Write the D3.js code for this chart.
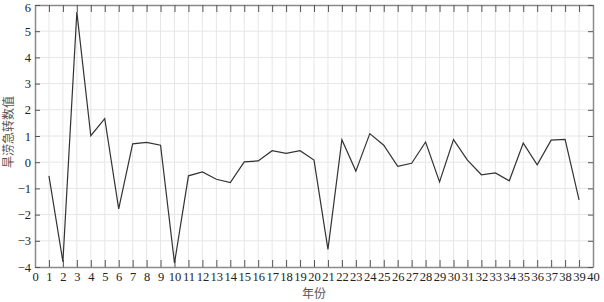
<!DOCTYPE html>
<html><head><meta charset="utf-8">
<script src="https://cdn.jsdelivr.net/npm/d3@7"></script>
<style>body{margin:0;background:#fff}svg{display:block}</style>
</head><body>
<svg id="chart" width="604" height="302"></svg>
<script>
const years = d3.range(1, 40);
const values = [-0.52, -3.8, 5.73, 1.01, 1.66, -1.78, 0.70, 0.76, 0.65, -3.85,
  -0.52, -0.37, -0.65, -0.78, 0.01, 0.05, 0.44, 0.34, 0.44, 0.08,
  -3.33, 0.86, -0.34, 1.09, 0.65, -0.16, -0.04, 0.77, -0.75, 0.86,
  0.08, -0.48, -0.41, -0.71, 0.73, -0.10, 0.84, 0.87, -1.44];
const xTicks = d3.range(0, 41);
const yTicks = d3.range(-4, 7);
const xLabel = "年份";
const yLabel = "旱涝急转数值";

const svg = d3.select("#chart");
const L = 35, R = 593, T = 5, B = 267;
const x = d3.scaleLinear().domain([0, 40]).range([L, R]);
const y = d3.scaleLinear().domain([-4, 6]).range([B, T]);

// grid
svg.append("g").selectAll("line").data(xTicks.slice(1, -1)).join("line")
  .attr("x1", d => x(d)).attr("x2", d => x(d)).attr("y1", T).attr("y2", B)
  .attr("stroke", "#e6e6e6").attr("stroke-width", 1);
svg.append("g").selectAll("line").data(yTicks.slice(1, -1)).join("line")
  .attr("y1", d => y(d)).attr("y2", d => y(d)).attr("x1", L).attr("x2", R)
  .attr("stroke", "#e6e6e6").attr("stroke-width", 1);

// axes
const fmt = d => d < 0 ? "\u2212" + Math.abs(d) : String(d);
const gx = svg.append("g").attr("transform", `translate(0,${B})`)
  .call(d3.axisBottom(x).tickValues(xTicks).tickFormat(d => d).tickSizeInner(-7).tickSizeOuter(0).tickPadding(5));
const gxt = svg.append("g").attr("transform", `translate(0,${T})`)
  .call(d3.axisTop(x).tickValues(xTicks).tickFormat("").tickSizeInner(-7).tickSizeOuter(0));
const gy = svg.append("g").attr("transform", `translate(${L},0)`)
  .call(d3.axisLeft(y).tickValues(yTicks).tickFormat(fmt).tickSizeInner(-5).tickSizeOuter(0).tickPadding(4));
const gyr = svg.append("g").attr("transform", `translate(${R},0)`)
  .call(d3.axisRight(y).tickValues(yTicks).tickFormat("").tickSizeInner(-5).tickSizeOuter(0));
[gx, gxt, gy, gyr].forEach(g => {
  g.select(".domain").attr("stroke", "#8a8a8a").attr("stroke-width", 1.5);
  g.selectAll(".tick line").attr("stroke", "#555").attr("stroke-width", 1);
  g.selectAll("text").style("font-family", "'Liberation Serif'").style("font-size", "12.5px").attr("fill", "#222");
});
// keep the top y label inside the picture
gy.selectAll(".tick text").filter(d => d === 6).attr("dy", "0.5em");

// line
svg.append("path").datum(values)
  .attr("fill", "none").attr("stroke", "#333").attr("stroke-width", 1.2)
  .attr("stroke-linejoin", "miter")
  .attr("d", d3.line().x((d, i) => x(years[i])).y(d => y(d)));

// labels
svg.append("text").attr("x", (L + R) / 2).attr("y", 298).attr("text-anchor", "middle")
  .style("font-family", "'Noto Sans CJK SC'").style("font-size", "12px").attr("fill", "#555")
  .text(xLabel);
svg.append("text").attr("transform", `translate(13,${(T + B) / 2 - 4}) rotate(-90)`)
  .attr("text-anchor", "middle")
  .style("font-family", "'Noto Sans CJK SC'").style("font-size", "12px").attr("fill", "#555")
  .text(yLabel);
</script>
</body></html>
